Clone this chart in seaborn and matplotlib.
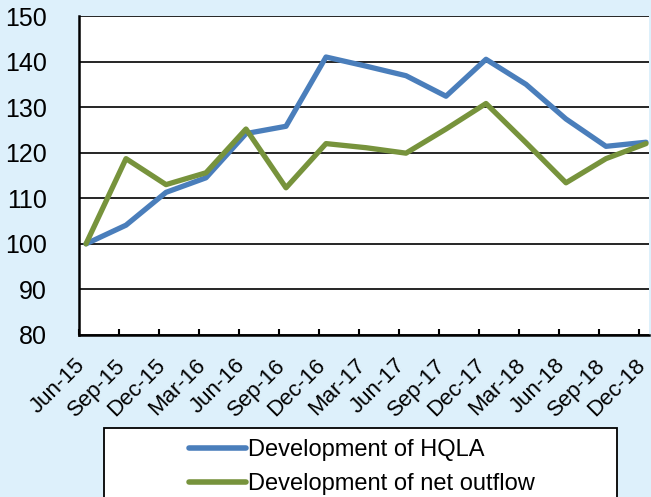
import numpy as np
import pandas as pd
import matplotlib
matplotlib.use("Agg")
import matplotlib.pyplot as plt
import seaborn as sns
from matplotlib.patches import Rectangle
from matplotlib.ticker import FixedLocator

quarters = ["Jun-15", "Sep-15", "Dec-15", "Mar-16", "Jun-16", "Sep-16", "Dec-16",
            "Mar-17", "Jun-17", "Sep-17", "Dec-17", "Mar-18", "Jun-18", "Sep-18", "Dec-18"]
hqla = [100, 104.1, 111.3, 114.5, 124.2, 125.8, 141.0, 139.0, 136.9, 132.4,
        140.5, 135.0, 127.4, 121.4, 122.3]
outflow = [100, 118.7, 113.0, 115.6, 125.2, 112.3, 122.0, 121.1, 119.9, 125.2,
           130.8, 122.2, 113.4, 118.7, 122.0]
series_names = ["Development of HQLA", "Development of net outflow"]
y_ticks = [80, 90, 100, 110, 120, 130, 140, 150]

BG = "#ddf0fb"
BLUE = "#4a7ebb"
GREEN = "#77933c"

df = pd.DataFrame({
    "quarter": quarters * 2,
    "value": hqla + outflow,
    "series": [series_names[0]] * len(quarters) + [series_names[1]] * len(quarters),
})

sns.set_theme(style="white")
plt.rcParams["font.family"] = ["Liberation Sans", "DejaVu Sans"]

W, H = 651, 497
fig = plt.figure(figsize=(W / 100, H / 100), dpi=100, facecolor=BG)
ax = fig.add_axes([79 / W, 1 - 335 / H, (649 - 79) / W, (335 - 16) / H])
ax.set_facecolor("white")

sns.lineplot(data=df, x="quarter", y="value", hue="series",
             palette=[BLUE, GREEN], linewidth=3.8, sort=False, ax=ax)

handles, labels = ax.get_legend_handles_labels()
if ax.get_legend() is not None:
    ax.get_legend().remove()

n = len(quarters)
ax.set_yticks(y_ticks)
ax.set_xticks(np.arange(n))
ax.set_xticklabels(quarters, rotation=45, ha="right", va="baseline",
                   rotation_mode="anchor", fontsize=16)
ax.xaxis.set_minor_locator(FixedLocator(np.arange(n) - 0.175))
ax.set_xlim(-0.175, n - 1 + 0.075)
ax.set_ylim(80, 150)
ax.set_xlabel("")
ax.set_ylabel("")
ax.tick_params(axis="y", labelsize=18, length=0, pad=23, colors="black")
ax.tick_params(axis="x", which="major", length=0, pad=22.5, colors="black")
ax.tick_params(axis="x", which="minor", bottom=True, direction="in",
               length=4, width=1.5, color="black")

ax.grid(axis="y", color="black", linewidth=1.2)
ax.grid(axis="x", visible=False)
ax.set_axisbelow(True)
for s in ["top", "right"]:
    ax.spines[s].set_visible(False)
for s in ["left", "bottom"]:
    ax.spines[s].set_color("black")
    ax.spines[s].set_linewidth(1.8)

for h in handles:
    h.set_linewidth(4)
    h.set_solid_capstyle("round")
leg = fig.legend(handles, labels, loc="center",
                 bbox_to_anchor=(362 / W, 1 - 467 / H), frameon=False,
                 fontsize=17, handlelength=2.4, handletextpad=0.1,
                 labelspacing=0.5)
for t in leg.get_texts():
    t.set_color("black")

fig.patches.append(Rectangle((104 / W, 1 - 520 / H), (617 - 104) / W, (520 - 428) / H,
                             transform=fig.transFigure, facecolor="white",
                             edgecolor="black", linewidth=1.3, zorder=0))

fig.savefig("out.png", dpi=100, facecolor=BG)
